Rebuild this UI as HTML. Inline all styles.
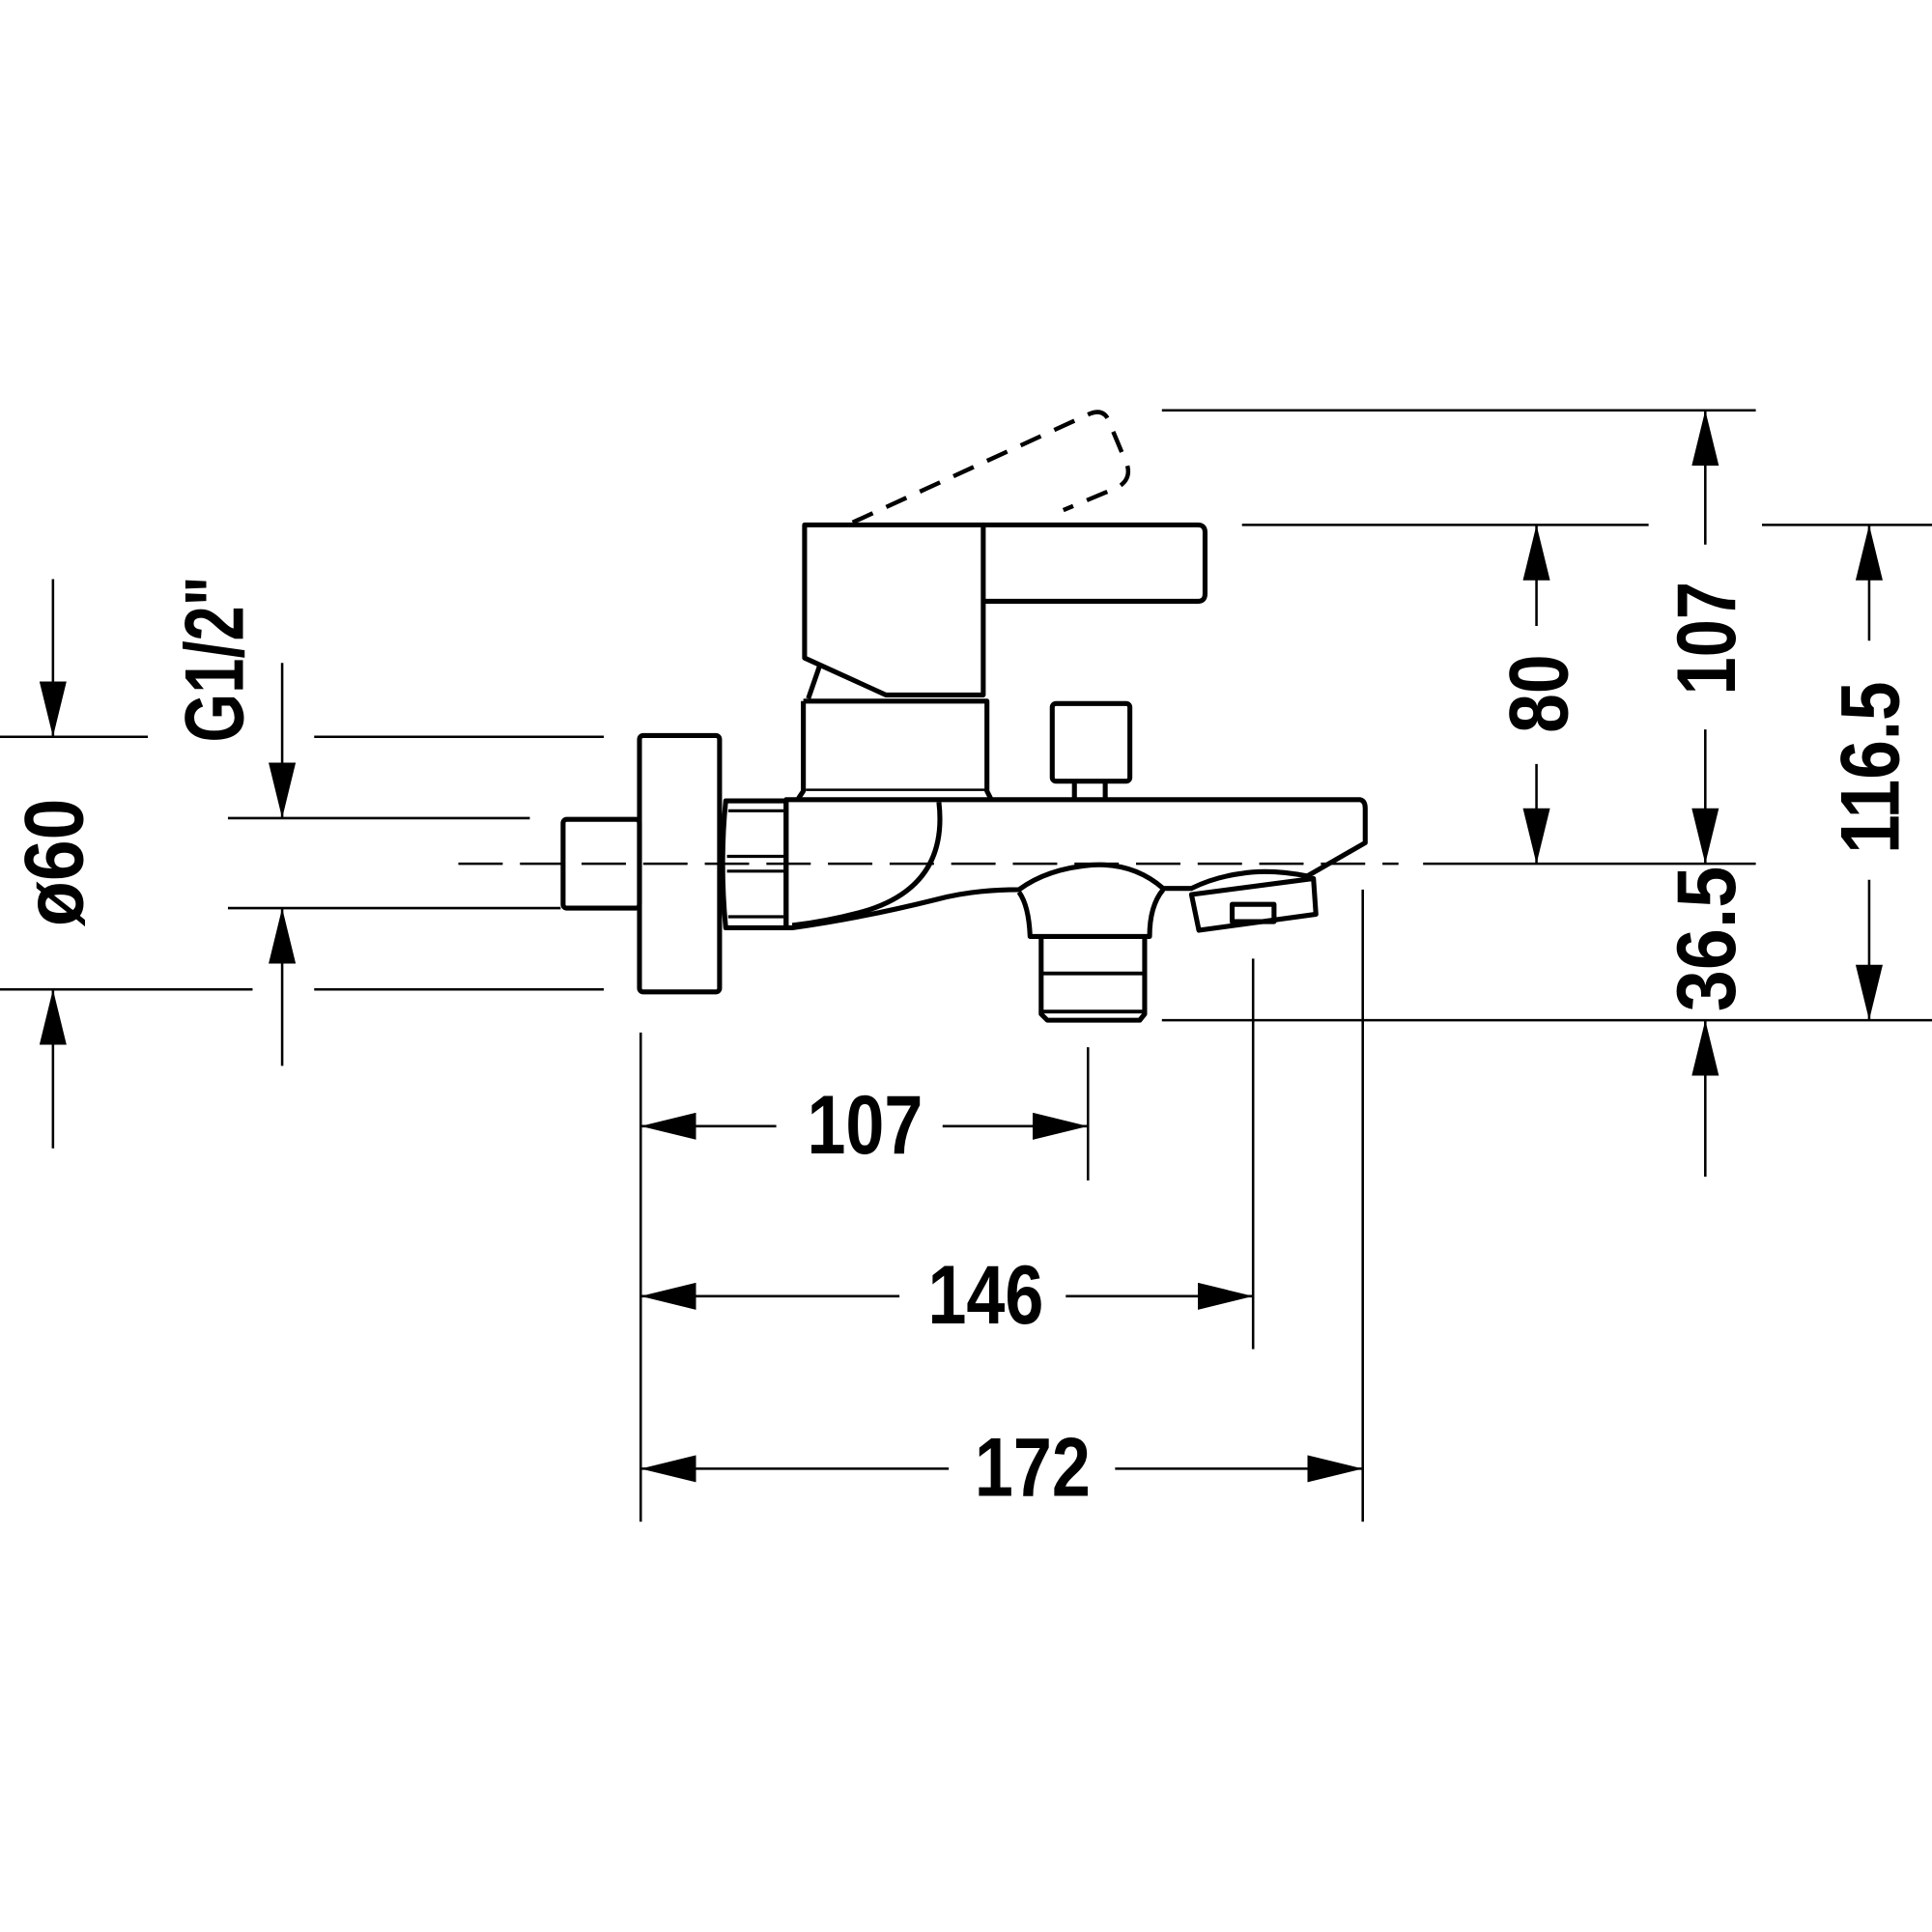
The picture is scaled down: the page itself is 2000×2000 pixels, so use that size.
<!DOCTYPE html>
<html><head><meta charset="utf-8"><style>
html,body{margin:0;padding:0;background:#fff}
svg{display:block}
text{font-family:"Liberation Sans",sans-serif;font-weight:bold;font-size:68px;fill:#000}
</style></head><body>
<svg width="2000" height="2000" viewBox="0 0 1568 1568" xmlns="http://www.w3.org/2000/svg">
<defs>
<marker id="a" viewBox="0 0 45 22" refX="45" refY="11" markerWidth="45" markerHeight="22" markerUnits="userSpaceOnUse" orient="auto"><path d="M0,0L45,11L0,22z" fill="#000"/></marker>
</defs>
<g fill="none" stroke="#000" stroke-width="4" stroke-linejoin="round">
<!-- dashed lever -->
<path d="M692,424 L884,336 Q896,331 900,342 L915,378 Q918,390 906,396 L863,414" stroke-dasharray="18,12" stroke-width="3.5"/>
<!-- handle -->
<path d="M653,426 L798,426 L798,564 L719,564 L653,534 Z"/>
<path d="M798,426 L972,426 Q978,426 978,432 L978,482 Q978,488 972,488 L798,488"/>
<path d="M665,541 L656,567"/>
<!-- collar -->
<path d="M652,569 L801,569 L801,642 L804,648 M652,569 L652,642 L648,648"/>
<path d="M654,641 L800,641" stroke-width="2"/>
<!-- button -->
<rect x="854" y="571" width="63" height="63" rx="3"/>
<path d="M872,634 L872,649 M897,634 L897,649"/>
<!-- body -->
<path d="M638,649 L1104,649 Q1108,650 1108,656 L1108,684 L1061,711 Q1030,705 1007,709 Q985,712 967,721 L944,721 Q920,700 886,702 Q850,705 827,722 Q790,722 760,730 Q700,745 643,753 L638,753 Z"/>
<path d="M762,651 Q770,720 700,740 Q670,748 643,751"/>
<!-- mount -->
<path d="M827,724 Q835,735 836,760 L933,760 Q933,735 944,722"/>
<path d="M845,760 L845,823 L850,828 L925,828 L929,823 L929,760"/>
<path d="M845,790 L929,790 M846,821 L928,821" stroke-width="3"/>
<!-- diverter -->
<path d="M967,726 L1066,713 L1068,742 L973,755 Z"/>
<rect x="1000" y="734" width="34" height="14"/>
<!-- nut -->
<path d="M589,650 L638,650 L638,753 L589,753 Q584,700 589,650 Z"/>
<path d="M591,658 L636,658 M590,695 L637,695 M590,707 L637,707 M591,744 L636,744" stroke-width="2.5"/>
<!-- flange & stub -->
<rect x="519" y="597" width="65" height="208" rx="3"/>
<rect x="457" y="665" width="62" height="72" rx="3"/>
</g>
<g stroke="#000" stroke-width="2" fill="none">
<!-- centerline -->
<path d="M372,701 L1135,701" stroke-dasharray="36,14"/>
<path d="M1155,701 L1425,701"/>
<!-- left extension lines -->
<path d="M0,598 L120,598 M255,598 L490,598 M0,803 L205,803 M255,803 L490,803"/>
<path d="M185,664 L430,664 M185,737 L455,737"/>
<path d="M43,470 L43,598" marker-end="url(#a)"/>
<path d="M43,932 L43,803" marker-end="url(#a)"/>
<path d="M229,538 L229,664" marker-end="url(#a)"/>
<path d="M229,865 L229,737" marker-end="url(#a)"/>
<!-- bottom extension lines -->
<path d="M520,838 L520,1235 M883,850 L883,958 M1017,778 L1017,1095 M1106,722 L1106,1235"/>
<path d="M630,914 L520,914" marker-end="url(#a)"/><path d="M765,914 L883,914" marker-end="url(#a)"/>
<path d="M730,1052 L520,1052" marker-end="url(#a)"/><path d="M865,1052 L1017,1052" marker-end="url(#a)"/>
<path d="M770,1192 L520,1192" marker-end="url(#a)"/><path d="M905,1192 L1106,1192" marker-end="url(#a)"/>
<!-- right extension lines -->
<path d="M943,333 L1425,333 M1008,426 L1338,426 M1430,426 L1568,426 M943,828 L1568,828"/>
<path d="M1247,508 L1247,426" marker-end="url(#a)"/><path d="M1247,620 L1247,701" marker-end="url(#a)"/>
<path d="M1384,442 L1384,333" marker-end="url(#a)"/><path d="M1384,592 L1384,701" marker-end="url(#a)"/>
<path d="M1384,955 L1384,828" marker-end="url(#a)"/>
<path d="M1517,520 L1517,426" marker-end="url(#a)"/><path d="M1517,714 L1517,828" marker-end="url(#a)"/>
</g>
<text x="702" y="936" text-anchor="middle" textLength="94" lengthAdjust="spacingAndGlyphs">107</text>
<text x="800" y="1074" text-anchor="middle" textLength="94" lengthAdjust="spacingAndGlyphs">146</text>
<text x="838" y="1214" text-anchor="middle" textLength="94" lengthAdjust="spacingAndGlyphs">172</text>
<text transform="translate(1272,563) rotate(-90)" text-anchor="middle" textLength="64" lengthAdjust="spacingAndGlyphs">80</text>
<text transform="translate(1408,518) rotate(-90)" text-anchor="middle" textLength="92" lengthAdjust="spacingAndGlyphs">107</text>
<text transform="translate(1408,762) rotate(-90)" text-anchor="middle" textLength="118" lengthAdjust="spacingAndGlyphs">36.5</text>
<text transform="translate(1541,623) rotate(-90)" text-anchor="middle" textLength="140" lengthAdjust="spacingAndGlyphs">116.5</text>
<text transform="translate(67,700) rotate(-90)" text-anchor="middle" textLength="104" lengthAdjust="spacingAndGlyphs">ø60</text>
<text transform="translate(197,535) rotate(-90)" text-anchor="middle" textLength="135" lengthAdjust="spacingAndGlyphs">G1/2"</text>
</svg>
</body></html>
